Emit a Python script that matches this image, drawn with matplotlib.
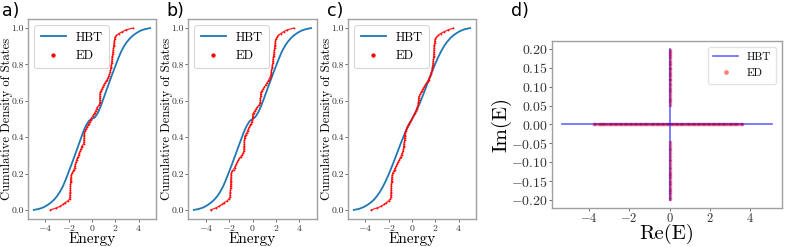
import numpy as np
from matplotlib import pyplot as plt

plt.rcParams["font.family"] = "cmr10"
plt.rcParams["mathtext.fontset"] = "cm"
plt.rcParams["axes.formatter.use_mathtext"] = True

# HBT cumulative density of states, energy grid
hbt_energy = [-5.0, -4.75, -4.5, -4.25, -4.0, -3.75, -3.5, -3.25, -3.0, -2.75,
              -2.5, -2.25, -2.0, -1.75, -1.5, -1.25, -1.0, -0.75, -0.5, -0.25,
              0.0, 0.25, 0.5, 0.75, 1.0, 1.25, 1.5, 1.75, 2.0, 2.25,
              2.5, 2.75, 3.0, 3.25, 3.5, 3.75, 4.0, 4.25, 4.5, 4.75, 5.0]
hbt_a = [0.000, 0.003, 0.007, 0.012, 0.020, 0.030, 0.042, 0.057, 0.076, 0.100,
         0.130, 0.168, 0.210, 0.252, 0.296, 0.340, 0.385, 0.430, 0.467, 0.491,
         0.500, 0.509, 0.533, 0.570, 0.615, 0.660, 0.704, 0.748, 0.790, 0.832,
         0.870, 0.900, 0.924, 0.943, 0.958, 0.970, 0.980, 0.988, 0.993, 0.997, 1.000]
hbt_b = [0.000, 0.003, 0.007, 0.012, 0.020, 0.030, 0.042, 0.057, 0.076, 0.100,
         0.130, 0.168, 0.209, 0.251, 0.295, 0.339, 0.383, 0.426, 0.462, 0.488,
         0.500, 0.512, 0.538, 0.574, 0.617, 0.661, 0.705, 0.749, 0.791, 0.832,
         0.870, 0.900, 0.924, 0.943, 0.958, 0.970, 0.980, 0.988, 0.993, 0.997, 1.000]
hbt_c = [0.000, 0.003, 0.007, 0.013, 0.021, 0.031, 0.043, 0.058, 0.077, 0.100,
         0.128, 0.160, 0.196, 0.235, 0.276, 0.318, 0.360, 0.400, 0.437, 0.470,
         0.500, 0.530, 0.563, 0.600, 0.640, 0.682, 0.724, 0.765, 0.804, 0.840,
         0.872, 0.900, 0.923, 0.942, 0.957, 0.969, 0.979, 0.987, 0.993, 0.997, 1.000]

# ED eigenvalues (sorted)
ed_a = [-3.57, -3.10, -2.72, -2.50, -2.30, -2.05, -1.92,
        -1.90, -1.89, -1.88, -1.87, -1.86, -1.86, -1.85, -1.85, -1.84, -1.83, -1.82, -1.80, -1.78,
        -1.72, -1.62, -1.55, -1.50, -1.46, -1.42, -1.38, -1.33, -1.26, -1.20, -1.14, -1.09,
        -1.02, -0.96, -0.90, -0.85,
        -0.70, -0.69, -0.69, -0.68, -0.68, -0.67, -0.66,
        -0.60, -0.52, -0.44, -0.36, -0.28, -0.20, -0.12, -0.05, 0.05, 0.15, 0.25, 0.32,
        0.40, 0.47, 0.60,
        0.66, 0.67, 0.67, 0.68, 0.68, 0.69, 0.70,
        0.78, 0.86, 0.93, 1.00, 1.10, 1.20, 1.30, 1.38, 1.44, 1.50, 1.55, 1.58,
        1.62, 1.64, 1.66, 1.68, 1.70, 1.72, 1.74, 1.76, 1.78, 1.80, 1.82, 1.84, 1.86, 1.88,
        1.90, 1.92, 1.95, 1.98,
        2.10, 2.30, 2.60, 2.90, 3.50]
ed_b = [-3.57, -3.15, -2.85, -2.60, -2.40, -2.15, -2.00,
        -1.92, -1.91, -1.90, -1.89, -1.88, -1.87, -1.87, -1.86, -1.85, -1.85, -1.84, -1.83,
        -1.82, -1.80, -1.76,
        -1.62, -1.52, -1.45, -1.38, -1.30, -1.22, -1.12, -1.00, -0.88, -0.80,
        -0.74, -0.73, -0.72, -0.71, -0.70, -0.70, -0.69, -0.68, -0.66,
        -0.58, -0.50, -0.42, -0.35, -0.28, -0.20, -0.12, -0.05,
        -0.01, 0.00, 0.01, 0.02,
        0.10, 0.20, 0.30, 0.40, 0.55,
        0.65, 0.66, 0.67, 0.68, 0.69, 0.70, 0.72,
        0.82, 0.92, 1.02, 1.12, 1.22, 1.32, 1.40, 1.48, 1.54,
        1.58, 1.60, 1.62,
        1.66, 1.68, 1.70, 1.72, 1.74, 1.76, 1.78, 1.80, 1.82, 1.84, 1.86, 1.88, 1.90, 1.92,
        1.94, 1.96, 1.99,
        2.08, 2.20, 2.40, 2.65, 2.95, 3.50]
ed_c = [-3.50, -3.05, -2.64, -2.40, -2.20, -2.00, -1.85,
        -1.82, -1.81, -1.80, -1.80, -1.79, -1.78, -1.78, -1.77, -1.76, -1.75, -1.74, -1.72,
        -1.70, -1.66,
        -1.58, -1.50, -1.42, -1.35, -1.28, -1.20, -1.12, -1.04, -0.96, -0.90, -0.84, -0.78,
        -0.74, -0.72, -0.70, -0.68, -0.66,
        -0.64, -0.63, -0.62, -0.62, -0.61,
        -0.55, -0.48, -0.42, -0.35, -0.26, -0.16, -0.06, 0.04, 0.12, 0.20, 0.27, 0.33,
        0.40, 0.46,
        0.52, 0.54, 0.55, 0.56, 0.57,
        0.62, 0.70, 0.78, 0.86, 0.94, 1.04, 1.14, 1.24, 1.34, 1.42, 1.50, 1.56, 1.62, 1.67,
        1.72, 1.74, 1.76, 1.78, 1.80, 1.82, 1.84, 1.85, 1.86, 1.87, 1.88, 1.89, 1.90, 1.91,
        1.92, 1.94, 1.96, 1.99,
        2.10, 2.25, 2.45, 2.75, 3.10, 3.55]

# panel d: complex spectrum
hbt_re_branch = [-5.3, 5.05]
hbt_im_branch = [-0.2, 0.2]
ed_re = [-3.75, -3.68, -3.55, -3.46, -3.38, -3.30, -3.22, -3.14, -3.05, -2.97,
         -2.88, -2.80, -2.72, -2.64, -2.55, -2.47, -2.39, -2.30, -2.22, -2.14,
         -2.06, -1.97, -1.89, -1.81, -1.72, -1.64, -1.56, -1.47, -1.39, -1.31,
         -1.22, -1.14, -1.06, -0.97, -0.89, -0.81, -0.72, -0.64, -0.56, -0.47,
         -0.39, -0.31, -0.22, -0.14, -0.06,
         0.06, 0.14, 0.22, 0.31, 0.39, 0.47, 0.56, 0.64, 0.72, 0.81,
         0.89, 0.97, 1.06, 1.14, 1.22, 1.31, 1.39, 1.47, 1.56, 1.64,
         1.72, 1.81, 1.89, 1.97, 2.06, 2.14, 2.22, 2.30, 2.39, 2.47,
         2.55, 2.64, 2.72, 2.80, 2.88, 2.97, 3.05, 3.14, 3.22, 3.30,
         3.38, 3.52, 3.60]
ed_im = [0.052, 0.058, 0.064, 0.071, 0.078, 0.085, 0.091, 0.097, 0.104, 0.110,
         0.116, 0.121, 0.127, 0.133, 0.139, 0.145, 0.150, 0.156, 0.162, 0.168,
         0.174, 0.180, 0.186, 0.192, 0.197,
         -0.046, -0.054, -0.061, -0.068, -0.076, -0.083, -0.090, -0.097, -0.104, -0.111,
         -0.118, -0.124, -0.130, -0.136, -0.142, -0.148, -0.154, -0.160, -0.166, -0.172,
         -0.178, -0.184, -0.190, -0.196]

W, H = 789, 247
fig = plt.figure(figsize=(W / 100, H / 100), dpi=100)

SPINE = "#a0a0a0"


def style(ax, tick_size):
    for s in ax.spines.values():
        s.set_color(SPINE)
        s.set_linewidth(1.0)
    ax.tick_params(length=2.0, width=0.6, color="#555555", labelsize=tick_size,
                   labelcolor="#333333", pad=1.0)


def cdos_panel(rect, hbt, ed):
    ax = fig.add_axes(rect)
    ax.plot(hbt_energy, hbt, color="#1f77b4", lw=1.3, label="HBT")
    y = np.arange(len(ed)) / (len(ed) - 1)
    ax.plot(ed, y, "-", lw=0.9, color="red", alpha=0.85)
    ax.plot(ed, y, "o", ms=1.3, mew=0, color="red", label="ED")
    ax.set_xticks([-4, -2, 0, 2, 4])
    ax.set_yticks([0.0, 0.2, 0.4, 0.6, 0.8, 1.0])
    ax.set_yticklabels(["0.0", "0.2", "0.4", "0.6", "0.8", "1.0"])
    ax.set_xlabel("Energy", fontsize=11)
    ax.xaxis.set_label_coords(0.5, -0.066)
    ax.set_ylabel("Cumulative Density of States", fontsize=9)
    ax.yaxis.set_label_coords(-0.12, 0.5)
    style(ax, 7)
    leg = ax.legend(loc="upper left", fontsize=9, markerscale=2.4,
                    handlelength=2.0, borderpad=0.5, labelspacing=0.5,
                    fancybox=True, framealpha=0.8, edgecolor="#cccccc")
    leg.get_frame().set_linewidth(0.8)
    return ax


cdos_panel([28 / W, 28 / H, 128 / W, 200 / H], hbt_a, ed_a)
cdos_panel([188 / W, 28 / H, 129 / W, 200 / H], hbt_b, ed_b)
cdos_panel([348 / W, 28 / H, 128 / W, 200 / H], hbt_c, ed_c)

ax = fig.add_axes([552 / W, 39 / H, 230 / W, 167 / H])
ax.plot(hbt_re_branch, [0, 0], color="blue", alpha=0.6, lw=1.2, label="HBT")
ax.plot([0, 0], hbt_im_branch, color="blue", alpha=0.6, lw=1.2)
ax.plot(ed_re + [0.0] * len(ed_im), [0.0] * len(ed_re) + ed_im, "o", ms=2.6, mew=0,
        color="red", alpha=0.5, zorder=1.5, label="ED")
ax.set_xticks([-4, -2, 0, 2, 4])
im_ticks = [-0.20, -0.15, -0.10, -0.05, 0.00, 0.05, 0.10, 0.15, 0.20]
ax.set_yticks(im_ticks)
ax.set_yticklabels([r"$%.2f$" % t for t in im_ticks])
ax.set_xlabel("Re(E)", fontsize=15)
ax.xaxis.set_label_coords(0.5, -0.095)
ax.set_ylabel("Im(E)", fontsize=15)
ax.yaxis.set_label_coords(-0.174, 0.5)
style(ax, 10)
ax.tick_params(axis="x", labelsize=9)
leg = ax.legend(loc="upper right", fontsize=8, markerscale=1.3, handlelength=2.2,
                borderpad=0.5, labelspacing=0.6, fancybox=True, framealpha=0.8,
                edgecolor="#dddddd")

for lab, x in [("a)", 2), ("b)", 166), ("c)", 327), ("d)", 511)]:
    fig.text(x / W, 1 - 2 / H, lab, family="DejaVu Sans", fontsize=12.5, va="top")

fig.savefig("out.png", dpi=100)
